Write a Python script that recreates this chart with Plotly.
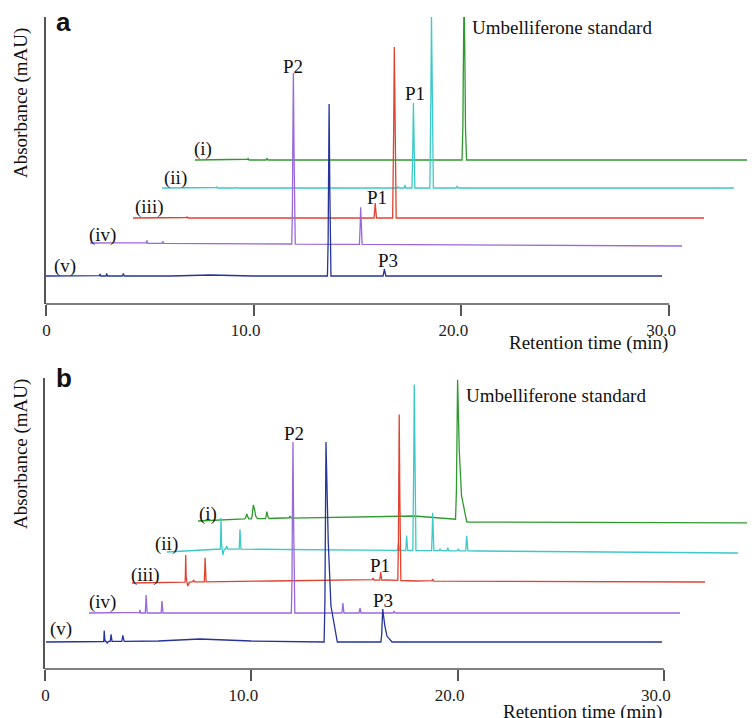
import numpy as np
import plotly.graph_objects as go

# ---------------- data ----------------
trace_names = ["(i)", "(ii)", "(iii)", "(iv)", "(v)"]
tick_vals = [0, 10, 20, 30]
tick_text = ["&nbsp;&nbsp;&nbsp;&nbsp;0", "10.0", "20.0", "30.0"]

# Panel a: baseline knots (retention time, level) and peaks
# peak = (time, height, left base width, right base width, right half-height width)
a1_base_t = [7.17, 34.6]
a1_base_y = [144, 144]
a1_peaks = [(9.73, 1.5, .05, .05, .02), (10.64, 1.5, .05, .05, .02),
            (20.13, 171, .10, .12, .045)]

a2_base_t = [5.59, 33.12]
a2_base_y = [116, 116]
a2_peaks = [(8.23, 1, .05, .05, .02), (9.10, 1, .05, .05, .02),
            (16.95, 1.5, .04, .04, .016), (17.28, 3, .04, .04, .016),
            (17.69, 85, .07, .07, .028), (18.56, 171, .08, .09, .035),
            (19.79, 2, .05, .05, .02)]

a3_base_t = [4.19, 31.68]
a3_base_y = [86, 86]
a3_peaks = [(6.79, 1, .05, .05, .02), (15.85, 15, .06, .06, .024),
            (16.77, 171, .08, .09, .035)]

a4_base_t = [2.12, 30.62]
a4_base_y = [61, 58]
a4_peaks = [(4.86, 3, .04, .04, .016), (5.63, 2, .04, .04, .016),
            (11.91, 171, .08, .09, .035), (15.15, 37, .06, .07, .026)]

a5_base_t = [0.0, 6.0, 7.9, 10.0, 29.66]
a5_base_y = [28, 28, 29, 28, 28]
a5_peaks = [(2.60, 2, .04, .04, .016), (2.92, 2.5, .04, .04, .016),
            (3.72, 2.5, .05, .05, .02), (13.63, 172, .08, .09, .035),
            (16.29, 7, .06, .07, .026)]

# Panel b
b1_base_t = [7.42, 9.5, 17.9, 19.85, 20.5, 34.6]
b1_base_y = [148, 150, 153, 150, 147, 146]
b1_peaks = [(9.78, 5, .10, .10, .04), (10.10, 14, .10, .20, .08),
            (10.75, 7, .07, .12, .04), (11.88, 2, .06, .06, .025),
            (20.00, 140, .10, .44, .08)]

b2_base_t = [5.91, 8.4, 21.0, 33.59]
b2_base_y = [117, 120, 118, 116]
b2_peaks = [(8.53, 31, .03, .05, .02), (8.62, -6, .05, .08, .03),
            (8.80, 3, .05, .05, .02), (9.45, 20, .04, .05, .02),
            (17.13, 7, .05, .05, .02), (17.53, 15, .05, .05, .02),
            (17.90, 166, .07, .08, .03), (18.79, 38, .05, .06, .02),
            (19.15, 2, .05, .05, .02), (19.52, 3, .05, .05, .02),
            (20.03, 2, .05, .05, .02), (20.44, 15, .05, .06, .02)]

b3_base_t = [4.22, 7.0, 11.0, 16.5, 18.0, 31.99]
b3_base_y = [86, 87, 88, 89, 88, 87]
b3_peaks = [(6.82, 27, .03, .04, .015), (6.92, -4, .05, .10, .03),
            (7.20, 2, .05, .05, .02), (7.76, 24, .04, .05, .02),
            (15.90, 2, .05, .05, .02), (16.27, 8, .05, .05, .02),
            (17.17, 166, .07, .08, .03), (18.79, 2, .05, .05, .02)]

b4_base_t = [2.13, 30.78]
b4_base_y = [56, 56]
b4_peaks = [(4.60, 3, .04, .04, .016), (4.90, 18, .04, .05, .02),
            (5.67, 12, .04, .05, .02), (12.02, 171, .08, .09, .035),
            (14.44, 10, .05, .05, .02), (15.27, 5, .05, .05, .02),
            (16.92, 2, .05, .05, .02)]

b5_base_t = [0.05, 5.5, 7.5, 10.0, 13.2, 29.91]
b5_base_y = [27, 28, 30, 28, 27, 27]
b5_peaks = [(2.87, 11, .03, .05, .02), (3.02, -2, .05, .05, .02),
            (3.20, 7, .04, .05, .02), (3.77, 6, .05, .07, .02),
            (13.62, 200, .09, .55, .11), (16.37, 33, .09, .45, .10)]

# annotations text
peak_labels_a = ["P2", "P1", "P1", "P3", "Umbelliferone standard"]
peak_labels_b = ["P2", "P1", "P1", "P3", "Umbelliferone standard"]

# ---------------- styles / layout ----------------
colors = ["#2e9a2e", "#3cc9c9", "#e2412f", "#9a68d8", "#26349a"]
axis_col = "#555555"
serif = "Liberation Serif"
FS = 19

OFF = 8                       # page body margin
W, H = 755 - OFF, 718 - OFF   # figure size so that it fits the window


def build(base_t, base_y, peaks):
    xs = list(base_t)
    profiles = []
    for t, h, wl, wr, hw in peaks:
        px = [t - wl, t - 0.58 * wl, t - 0.4 * wl, t, t + hw,
              t + hw + 0.3 * (wr - hw), t + wr]
        py = [0, 0.2 * h, 0.5 * h, h, 0.5 * h, 0.18 * h, 0]
        profiles.append((px, py))
        xs += px
    xs = np.array(sorted(set(xs)))
    xs = xs[(xs >= base_t[0]) & (xs <= base_t[-1])]
    ys = np.interp(xs, base_t, base_y)
    for px, py in profiles:
        ys = ys + np.interp(xs, px, py, left=0, right=0)
    return xs, ys


def fx(px):   # screen pixel -> paper x
    return (px - OFF) / W


def fy(py):   # screen pixel -> paper y
    return 1 - (py - OFF) / H


fig = go.Figure()

panel_a = [(a1_base_t, a1_base_y, a1_peaks), (a2_base_t, a2_base_y, a2_peaks),
           (a3_base_t, a3_base_y, a3_peaks), (a4_base_t, a4_base_y, a4_peaks),
           (a5_base_t, a5_base_y, a5_peaks)]
panel_b = [(b1_base_t, b1_base_y, b1_peaks), (b2_base_t, b2_base_y, b2_peaks),
           (b3_base_t, b3_base_y, b3_peaks), (b4_base_t, b4_base_y, b4_peaks),
           (b5_base_t, b5_base_y, b5_peaks)]

for (bt, by, pk), c, nm in zip(panel_a, colors, trace_names):
    x, y = build(bt, by, pk)
    fig.add_trace(go.Scatter(x=x, y=y, mode="lines", line=dict(color=c, width=1.3),
                             name=nm, xaxis="x", yaxis="y", showlegend=False,
                             hoverinfo="skip"))
for (bt, by, pk), c, nm in zip(panel_b, colors, trace_names):
    x, y = build(bt, by, pk)
    fig.add_trace(go.Scatter(x=x, y=y, mode="lines", line=dict(color=c, width=1.3),
                             name=nm, xaxis="x2", yaxis="y2", showlegend=False,
                             hoverinfo="skip"))

# axes geometry (screen pixels)
a_left, a_bot, a_top, a_pxmin = 46, 304, 17, 20.77
b_left, b_bot, b_top, b_pxmin = 45, 669, 378, 20.63


def xaxis_common(left, pxmin, anchor):
    return dict(domain=[fx(left), 1], range=[0, (755 - left) / pxmin], anchor=anchor,
                tickvals=tick_vals, ticktext=tick_text, ticks="outside", ticklen=11,
                tickwidth=1.5, tickcolor=axis_col, showline=False, showgrid=False,
                zeroline=False, tickfont=dict(family=serif, size=17, color="#222"),
                ticklabelshift=-8, automargin=False, fixedrange=True)


def yaxis_common(bot, top, anchor):
    return dict(domain=[fy(bot), fy(top)], range=[0, bot - top], anchor=anchor,
                showline=True, linecolor=axis_col, linewidth=1.5, ticks="",
                showticklabels=False, showgrid=False, zeroline=False,
                automargin=False, fixedrange=True)


fig.update_layout(
    width=W, height=H, margin=dict(l=0, r=0, t=0, b=0),
    paper_bgcolor="white", plot_bgcolor="white",
    xaxis=xaxis_common(a_left, a_pxmin, "y"),
    yaxis=yaxis_common(a_bot, a_top, "x"),
    xaxis2=xaxis_common(b_left, b_pxmin, "y2"),
    yaxis2=yaxis_common(b_bot, b_top, "x2"),
)

# bottom axis lines from 0 to 30 min
for xr, bot in (("x", a_bot), ("x2", b_bot)):
    fig.add_shape(type="line", xref=xr, yref="paper", x0=tick_vals[0], x1=tick_vals[-1],
                  y0=fy(bot), y1=fy(bot), line=dict(color=axis_col, width=1.5))

ann = []
# trace labels (time of left edge, y of text centre)
a_lab_t = [7.03, 5.58, 4.19, 1.97, 0.29]
a_lab_y = [155.5, 126.5, 97.5, 69, 38]
b_lab_t = [7.37, 5.24, 4.07, 2.04, 0.15]
b_lab_y = [155.5, 125.5, 94.5, 67.5, 40.5]
for t, y, nm in zip(a_lab_t, a_lab_y, trace_names):
    ann.append(dict(x=t, y=y, xref="x", yref="y", text=nm, showarrow=False,
                    xanchor="left", yanchor="middle", font=dict(family=serif, size=FS, color="#111")))
for t, y, nm in zip(b_lab_t, b_lab_y, trace_names):
    ann.append(dict(x=t, y=y, xref="x2", yref="y2", text=nm, showarrow=False,
                    xanchor="left", yanchor="middle", font=dict(family=serif, size=FS, color="#111")))

# peak labels
a_pl_t = [11.89, 17.77, 15.94, 16.47, 20.41]
a_pl_y = [237, 210, 107, 44, 276]
b_pl_t = [12.09, 17.96, 16.26, 16.36, 20.31]
b_pl_y = [235.5, 294, 104, 69, 274]
for i, (t, y, s) in enumerate(zip(a_pl_t, a_pl_y, peak_labels_a)):
    ann.append(dict(x=t, y=y, xref="x", yref="y", text=s, showarrow=False,
                    xanchor="left" if i == 4 else "center", yanchor="middle",
                    font=dict(family=serif, size=FS, color="#111")))
for i, (t, y, s) in enumerate(zip(b_pl_t, b_pl_y, peak_labels_b)):
    ann.append(dict(x=t, y=y, xref="x2", yref="y2", text=s, showarrow=False,
                    xanchor="left" if i == 4 else "center", yanchor="middle",
                    font=dict(family=serif, size=FS, color="#111")))

# axis titles
for py in (103, 454):
    ann.append(dict(x=fx(21), y=fy(py), xref="paper", yref="paper",
                    text="Absorbance (mAU)", textangle=-90, showarrow=False,
                    xanchor="center", yanchor="middle",
                    font=dict(family=serif, size=FS, color="#111")))
for px, py in ((670, 343), (664, 712)):
    ann.append(dict(x=fx(px), y=fy(py), xref="paper", yref="paper",
                    text="Retention time (min)", showarrow=False,
                    xanchor="right", yanchor="middle",
                    font=dict(family=serif, size=FS, color="#111")))
# panel letters
for s, py in (("a", 39), ("b", 395)):
    ann.append(dict(x=fx(54), y=fy(py), xref="paper", yref="paper",
                    text="<b>%s</b>" % s, showarrow=False, xanchor="left", yanchor="bottom",
                    font=dict(family="Liberation Sans", size=26, color="#111")))

fig.update_layout(annotations=ann)
fig.write_html("out.html")
